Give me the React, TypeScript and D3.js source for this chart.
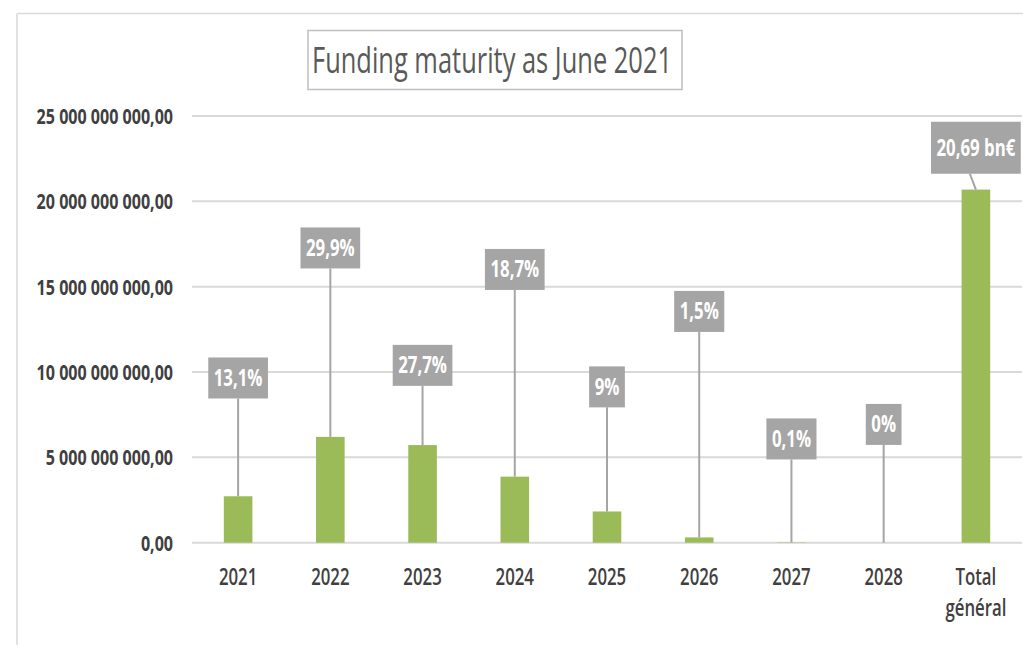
import React, { useEffect, useRef } from "react";
import * as d3 from "d3";

const categories = ["2021", "2022", "2023", "2024", "2025", "2026", "2027", "2028", "Total général"];
const valuesBn = [2.72, 6.2, 5.72, 3.87, 1.83, 0.31, 0.02, 0, 20.69];
const labelTexts = ["13,1%", "29,9%", "27,7%", "18,7%", "9%", "1,5%", "0,1%", "0%", "20,69 bn€"];
const labelAtBn = [9.65, 17.27, 10.39, 16.01, 9.13, 13.55, 6.08, 6.93, 23.14];
const yTicks = [0, 5e9, 10e9, 15e9, 20e9, 25e9];
const titleText = "Funding maturity as June 2021";

const W = 1023;
const H = 645;
const FONT = "'Open Sans', 'Noto Sans', sans-serif";
const TXT = "#404040";
const SX = 0.73;

export default function App() {
  const ref = useRef<SVGSVGElement | null>(null);

  useEffect(() => {
    const svg = d3.select(ref.current);
    svg.selectAll("*").remove();

    const x = d3.scaleBand<string>().domain(categories).range([192, 1022]).paddingInner(0.69).paddingOuter(0.345);
    const y = d3.scaleLinear().domain([0, 25e9]).range([542.7, 116]);

    const locale = d3.formatLocale({ decimal: ",", thousands: " ", grouping: [3], currency: ["", "€"] });
    const fmt = locale.format(",.2f");

    // outer frame
    svg.append("line").attr("x1", 17).attr("x2", W).attr("y1", 13.5).attr("y2", 13.5).attr("stroke", "#d9d9d9").attr("stroke-width", 1.5);
    svg.append("line").attr("x1", 17).attr("x2", 17).attr("y1", 13.5).attr("y2", H).attr("stroke", "#d9d9d9").attr("stroke-width", 1.5);

    // gridlines
    svg.append("g").selectAll("line").data(yTicks).join("line")
      .attr("x1", 192).attr("x2", 1022)
      .attr("y1", (d) => y(d)).attr("y2", (d) => y(d))
      .attr("stroke", "#d9d9d9").attr("stroke-width", 2);

    // y labels
    svg.append("g").selectAll("text").data(yTicks).join("text")
      .attr("transform", (d) => `translate(173,${y(d) + 8}) scale(${SX},1)`)
      .attr("text-anchor", "end")
      .attr("font-family", FONT).attr("font-size", 22).attr("font-weight", 700)
      .attr("fill", TXT)
      .text((d) => fmt(d));

    // x labels
    const xl = svg.append("g");
    categories.forEach((c) => {
      const cx = x(c)! + x.bandwidth() / 2;
      const parts = c.split(" ");
      parts.forEach((p, j) => {
        xl.append("text")
          .attr("transform", `translate(${cx},${585 + j * 31}) scale(${SX},1)`)
          .attr("text-anchor", "middle")
          .attr("font-family", FONT).attr("font-size", 23).attr("font-weight", 600)
          .attr("fill", TXT)
          .text(p);
      });
    });

    // bars
    svg.append("g").selectAll("rect").data(valuesBn).join("rect")
      .attr("x", (_d, i) => x(categories[i])!)
      .attr("width", x.bandwidth())
      .attr("y", (d) => y(d * 1e9))
      .attr("height", (d) => y(0) - y(d * 1e9))
      .attr("fill", "#9bbb59");

    // data labels with leader lines
    const lg = svg.append("g");
    labelTexts.forEach((t, i) => {
      const cx = x(categories[i])! + x.bandwidth() / 2;
      const cy = y(labelAtBn[i] * 1e9);
      const isTotal = i === labelTexts.length - 1;
      const bh = isTotal ? 52 : 41;
      const g = lg.append("g");
      const line = g.append("line")
        .attr("stroke", "#a5a5a5").attr("stroke-width", 2);
      const rect = g.append("rect").attr("fill", "#a5a5a5");
      const txt = g.append("text")
        .attr("transform", `translate(${cx},${cy + 8}) scale(${SX},1)`)
        .attr("text-anchor", "middle")
        .attr("font-family", FONT).attr("font-size", 23).attr("font-weight", 700)
        .attr("fill", "#ffffff")
        .text(t);
      const tw = (txt.node() as SVGTextElement).getComputedTextLength() * SX;
      const bw = tw + 11;
      rect.attr("x", cx - bw / 2).attr("y", cy - bh / 2).attr("width", bw).attr("height", bh);
      const topY = y(valuesBn[i] * 1e9);
      line.attr("x1", isTotal ? cx - 6 : cx).attr("x2", cx).attr("y1", cy + bh / 2).attr("y2", topY);
    });

    // title box
    const tg = svg.append("g");
    tg.append("rect").attr("x", 308).attr("y", 30.5).attr("width", 374).attr("height", 59)
      .attr("fill", "#ffffff").attr("stroke", "#bfbfbf").attr("stroke-width", 1.5);
    tg.append("text")
      .attr("x", 312).attr("y", 73)
      .attr("font-family", FONT).attr("font-size", 37).attr("font-weight", 400)
      .attr("fill", "#595959")
      .attr("textLength", 360).attr("lengthAdjust", "spacingAndGlyphs")
      .text(titleText);
  }, []);

  return (
    <svg
      ref={ref}
      width={W}
      height={H}
      style={{ position: "absolute", left: 0, top: 0, background: "#ffffff" }}
    />
  );
}
